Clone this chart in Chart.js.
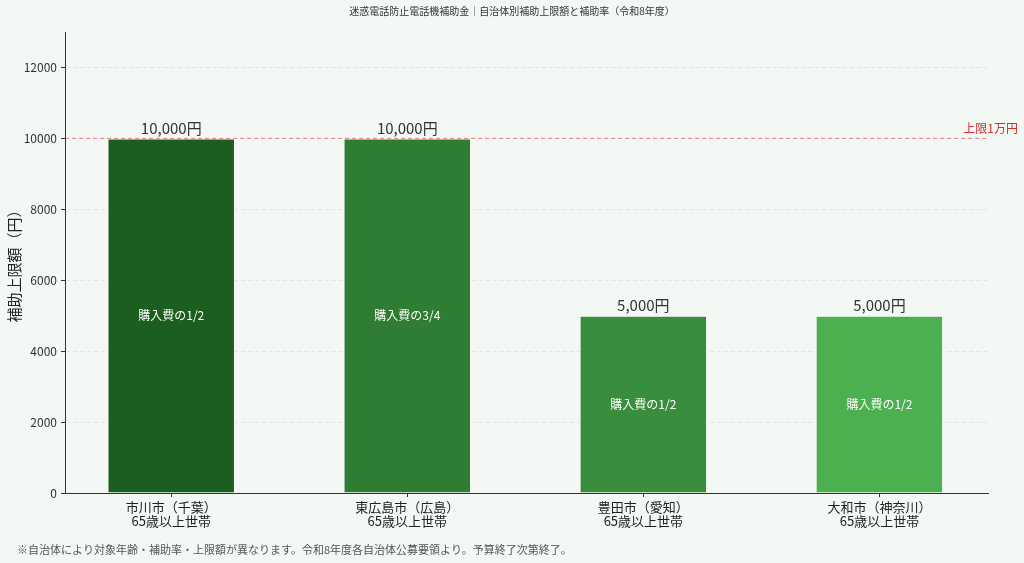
<!DOCTYPE html>
<html lang="ja">
<head>
<meta charset="utf-8">
<title>迷惑電話防止電話機補助金</title>
<script src="https://cdn.jsdelivr.net/npm/chart.js@4/dist/chart.umd.min.js"></script>
<style>
  html, body { margin: 0; padding: 0; background: #f4f8f5; }
  #wrap { width: 1024px; height: 563px; }
</style>
</head>
<body>
<div id="wrap"><canvas id="grafica"></canvas></div>
<script>
// datos
const municipios = [
    ['市川市（千葉）', '65歳以上世帯'],
    ['東広島市（広島）', '65歳以上世帯'],
    ['豊田市（愛知）', '65歳以上世帯'],
    ['大和市（神奈川）', '65歳以上世帯']
];
const limites = [10000, 10000, 5000, 5000];
const tasas = ['購入費の1/2', '購入費の3/4', '購入費の1/2', '購入費の1/2'];
const yTicks = [0, 2000, 4000, 6000, 8000, 10000, 12000];
const topeLinea = 10000;
const topeTexto = '上限1万円';
const titulo = '迷惑電話防止電話機補助金｜自治体別補助上限額と補助率（令和8年度）';
const nota = '※自治体により対象年齢・補助率・上限額が異なります。令和8年度各自治体公募要領より。予算終了次第終了。';

const colores = ['#1b5e20', '#2e7d32', '#388e3c', '#4caf50'];
const FUENTE = '"Noto Sans CJK JP", "Noto Sans", sans-serif';

// fondo, textos y linea de tope
const extras = {
    id: 'extras',
    beforeDraw(chart) {
        const { ctx, width, height } = chart;
        ctx.save();
        ctx.fillStyle = '#f4f8f5';
        ctx.fillRect(0, 0, width, height);
        ctx.restore();
    },
    afterDatasetsDraw(chart) {
        const { ctx, chartArea, scales } = chart;
        const y = scales.y;
        ctx.save();
        // linea de tope
        const yt = y.getPixelForValue(topeLinea);
        ctx.strokeStyle = 'rgba(229,57,53,0.6)';
        ctx.lineWidth = 1;
        ctx.setLineDash([4, 3]);
        ctx.beginPath();
        ctx.moveTo(chartArea.left, yt);
        ctx.lineTo(chartArea.right, yt);
        ctx.stroke();
        ctx.setLineDash([]);
        ctx.fillStyle = '#d32f2f';
        ctx.font = '12px ' + FUENTE;
        ctx.textAlign = 'right';
        ctx.textBaseline = 'bottom';
        ctx.fillText(topeTexto, 1018, yt - 4);

        // etiquetas de barras
        const meta = chart.getDatasetMeta(0);
        meta.data.forEach((bar, i) => {
            ctx.fillStyle = '#333';
            ctx.font = '15px ' + FUENTE;
            ctx.textAlign = 'center';
            ctx.textBaseline = 'bottom';
            ctx.fillText(limites[i].toLocaleString('ja-JP') + '円', bar.x, bar.y - 3);
            ctx.fillStyle = '#ffffff';
            ctx.font = '12px ' + FUENTE;
            ctx.textBaseline = 'middle';
            ctx.fillText(tasas[i], bar.x, y.getPixelForValue(limites[i] / 2));
        });

        // titulo y nota
        ctx.fillStyle = '#333';
        ctx.font = '10px ' + FUENTE;
        ctx.textAlign = 'center';
        ctx.textBaseline = 'middle';
        ctx.fillText(titulo, 512, 11);
        ctx.fillStyle = '#555';
        ctx.font = '11px ' + FUENTE;
        ctx.textAlign = 'left';
        ctx.fillText(nota, 17, 550);
        ctx.restore();
    }
};

new Chart(document.getElementById('grafica'), {
    type: 'bar',
    data: {
        datasets: [{
            label: '補助上限額',
            data: limites.map((v, i) => ({ x: i, y: v })),
            backgroundColor: colores,
            borderColor: '#ffffff',
            borderWidth: 1,
            barPercentage: 0.54,
            categoryPercentage: 1
        }]
    },
    options: {
        responsive: true,
        maintainAspectRatio: false,
        animation: false,
        layout: { padding: { left: 0, top: 32, right: 36, bottom: 0 } },
        plugins: {
            legend: { display: false },
            tooltip: { enabled: false }
        },
        scales: {
            x: {
                type: 'linear',
                offset: false,
                min: -0.45,
                max: 3.46,
                afterBuildTicks: (scale) => {
                    scale.ticks = municipios.map((m, i) => ({ value: i }));
                },
                afterFit: (scale) => { scale.height = 70; },
                grid: { display: true, offset: false, drawOnChartArea: false, tickColor: '#333', tickLength: 4 },
                border: { color: '#333', width: 1 },
                ticks: {
                    autoSkip: false,
                    maxRotation: 0,
                    padding: 3,
                    color: '#222',
                    font: { family: FUENTE, size: 13, lineHeight: 1.1 },
                    callback: (v) => municipios[v] || ''
                }
            },
            y: {
                min: 0,
                max: 13000,
                z: 1,
                afterBuildTicks: (scale) => {
                    scale.ticks = yTicks.map(v => ({ value: v }));
                },
                afterFit: (scale) => { scale.width = 65; },
                grid: {
                    color: 'rgba(0,0,0,0.07)',
                    tickColor: '#333',
                    tickLength: 4,
                    drawTicks: true
                },
                border: { color: '#333', width: 1, dash: [4, 3] },
                title: {
                    display: true,
                    text: '補助上限額（円）',
                    color: '#222',
                    padding: { top: 5, bottom: 0 },
                    font: { family: FUENTE, size: 15 }
                },
                ticks: {
                    padding: 4,
                    color: '#333',
                    font: { family: FUENTE, size: 12 },
                    callback: (v) => String(v)
                }
            }
        }
    },
    plugins: [extras]
});
</script>
</body>
</html>
